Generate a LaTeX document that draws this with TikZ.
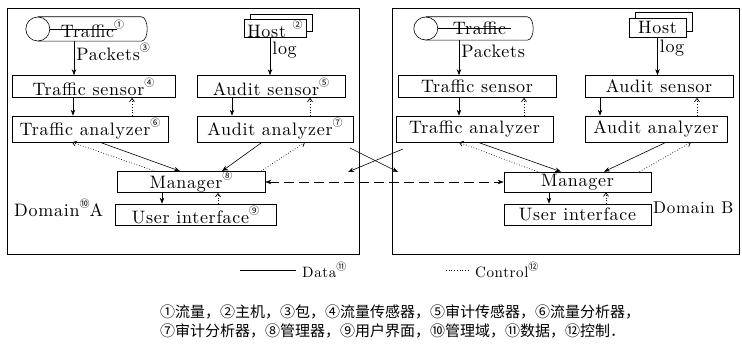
\documentclass[tikz,border=0pt]{standalone}
\usepackage{fontspec}
\newfontfamily\cjk{Noto Sans CJK SC}
\newfontfamily\lmls{lmroman10-regular.otf}[LetterSpace=4]
\usetikzlibrary{arrows.meta}
\newcommand{\cn}[1]{\raisebox{0.5em}{\cjk\fontsize{10}{10}\selectfont #1}}
\tikzset{
  lw/.style={line width=0.6pt},
  box/.style={draw, lw, inner sep=0pt, fill=white, font=\lmls\fontsize{18}{20}\selectfont},
  dom/.style={draw, line width=0.8pt, inner sep=0pt},
  lbl/.style={font=\lmls\fontsize{18}{20}\selectfont, inner sep=2pt},
  data/.style={lw, -{Stealth[length=6pt,width=4.5pt]}},
  ctrl/.style={line width=0.7pt, dotted, -{Straight Barb[length=3.5pt,width=5pt]}},
  link/.style={lw, dash pattern=on 10pt off 5pt, {Stealth[length=6pt,width=4.5pt]}-{Stealth[length=6pt,width=4.5pt]}},
  cyl/.style={inner sep=0pt, font=\lmls\fontsize{18}{20}\selectfont},
}
\begin{document}
\begin{tikzpicture}[x=1pt,y=-1pt]
\fill[white] (0,0) rectangle (742,350);
\useasboundingbox (0,0) rectangle (742,350);

% domains
\node[dom, minimum width=352, minimum height=246] (domA) at (183,131) {};
\node[dom, minimum width=347, minimum height=246] (domB) at (565.5,131) {};

% ---------- Domain A ----------
\node[cyl, minimum width=121, minimum height=24] (tfA) at (86.5,29) {\hspace*{12pt}Traffic\cn{①}};
\draw[lw] ([xshift=12pt]tfA.center -| tfA.west) ellipse [x radius=12, y radius=12];
\draw[lw] ([xshift=12pt]tfA.north west) -- ([xshift=-6pt]tfA.north east)
  .. controls ([xshift=2pt]tfA.north east) and ([xshift=2pt]tfA.south east) .. ([xshift=-6pt]tfA.south east)
  -- ([xshift=12pt]tfA.south west);
\draw[lw] ([xshift=24pt]tfA.west) -- ([xshift=-30pt]tfA.east);

\node[box, minimum width=62, minimum height=17] (hostAb) at (281,22.5) {};
\node[box, minimum width=62, minimum height=17] (hostA) at (275,28.5) {Host \cn{②}};

\node[box, minimum width=163, minimum height=22] (tsA) at (93.5,86.5) {Traffic sensor\cn{④}};
\node[box, minimum width=148, minimum height=22] (asA) at (271,86.5) {Audit sensor\cn{⑤}};
\node[box, minimum width=156, minimum height=26] (taA) at (90,129) {Traffic analyzer\cn{⑥}};
\node[box, minimum width=156, minimum height=26] (aaA) at (275,129) {Audit analyzer\cn{⑦}};
\node[box, minimum width=148, minimum height=20] (mgA) at (191,182) {Manager\cn{⑧}};
\node[box, minimum width=161, minimum height=21] (uiA) at (195.5,214.5) {User interface\cn{⑨}};
\node[lbl, anchor=west] (dnA) at (12,208) {Domain\cn{⑩}A};

\draw[data] ([xshift=-12.5pt]tfA.south) -- ([xshift=-12.5pt]tfA.south |- tsA.north)
  node[lbl, pos=0.32, right] (pkA) {Packets\cn{③}};
\draw[data] ([xshift=-5pt]hostA.south) -- ([xshift=-5pt]hostA.south |- asA.north)
  node[lbl, pos=0.32, right] (logA) {log};

\draw[data] ([xshift=-20.5pt]tsA.south) -- ([xshift=-20.5pt]tsA.south |- taA.north);
\draw[ctrl] ([xshift=38.5pt]tsA.south |- taA.north) -- ([xshift=38.5pt]tsA.south);
\draw[data] ([xshift=-39pt]asA.south) -- ([xshift=-39pt]asA.south |- aaA.north);
\draw[ctrl] ([xshift=39pt]asA.south |- aaA.north) -- ([xshift=39pt]asA.south);

\draw[data] ([xshift=10pt]taA.south) -- ([xshift=-11pt]mgA.north);
\draw[ctrl] ([xshift=-36pt]mgA.north) -- ([xshift=-18pt]taA.south);
\draw[data] ([xshift=-13pt]aaA.south) -- ([xshift=31pt]mgA.north);
\draw[ctrl] ([xshift=70pt]mgA.north) -- ([xshift=30pt]aaA.south);

\draw[data] ([xshift=-29pt]mgA.south) -- ([xshift=-29pt]mgA.south |- uiA.north);
\draw[ctrl] ([xshift=27pt]mgA.south |- uiA.north) -- ([xshift=27pt]mgA.south);

% ---------- Domain B ----------
\node[cyl, minimum width=119, minimum height=23] (tfB) at (473.5,28.5) {\hspace*{12pt}Traffic};
\draw[lw] ([xshift=12pt]tfB.center -| tfB.west) ellipse [x radius=12, y radius=11.5];
\draw[lw] ([xshift=12pt]tfB.north west) -- ([xshift=-6pt]tfB.north east)
  .. controls ([xshift=2pt]tfB.north east) and ([xshift=2pt]tfB.south east) .. ([xshift=-6pt]tfB.south east)
  -- ([xshift=12pt]tfB.south west);
\draw[lw] ([xshift=24pt]tfB.west) -- ([xshift=-22pt]tfB.east);

\node[box, minimum width=57, minimum height=19] (hostBb) at (663.5,22) {};
\node[box, minimum width=57, minimum height=19] (hostB) at (657.5,27.5) {Host};

\node[box, minimum width=158, minimum height=22] (tsB) at (477,86.5) {Traffic sensor};
\node[box, minimum width=148, minimum height=22] (asB) at (659,86.5) {Audit sensor};
\node[box, minimum width=157, minimum height=26] (taB) at (474.5,129) {Traffic analyzer};
\node[box, minimum width=142, minimum height=26] (aaB) at (656,129) {Audit analyzer};
\node[box, minimum width=147, minimum height=20] (mgB) at (577.5,182) {Manager};
\node[box, minimum width=147, minimum height=21] (uiB) at (577.5,214.5) {User interface};
\node[lbl, anchor=west, font=\lmls\fontsize{17}{20}\selectfont] (dnB) at (651,208) {Domain B};

\draw[data] ([xshift=-14.5pt]tfB.south) -- ([xshift=-14.5pt]tfB.south |- tsB.north)
  node[lbl, pos=0.32, right] (pkB) {Packets};
\draw[data] (hostB.south) -- (hostB.south |- asB.north)
  node[lbl, pos=0.28, right] (logB) {log};

\draw[data] ([xshift=-18pt]tsB.south) -- ([xshift=-18pt]tsB.south |- taB.north);
\draw[ctrl] ([xshift=47pt]tsB.south |- taB.north) -- ([xshift=47pt]tsB.south);
\draw[data] ([xshift=-59pt]asB.south) -- ([xshift=-59pt]asB.south |- aaB.north);
\draw[ctrl] ([xshift=38pt]asB.south |- aaB.north) -- ([xshift=38pt]asB.south);

\draw[data] ([xshift=3.5pt]taB.south) -- ([xshift=-16.5pt]mgB.north);
\draw[ctrl] ([xshift=-40pt]mgB.north) -- ([xshift=-15.5pt]taB.south);
\draw[data] ([xshift=10pt]aaB.south) -- ([xshift=26.5pt]mgB.north);
\draw[ctrl] ([xshift=62pt]mgB.north) -- ([xshift=35pt]aaB.south);

\draw[data] ([xshift=-28.5pt]mgB.south) -- ([xshift=-28.5pt]mgB.south |- uiB.north);
\draw[ctrl] ([xshift=28.5pt]mgB.south |- uiB.north) -- ([xshift=28.5pt]mgB.south);

% ---------- between domains ----------
\coordinate (x1s) at (350,148);
\coordinate (x1e) at (398,172);
\coordinate (x2s) at (403,149);
\coordinate (x2e) at (348,172);
\draw[data] (x1s) -- (x1e);
\draw[data] (x2s) -- (x2e);
\draw[link] (mgA.east) -- (mgB.west);

% ---------- legend ----------
\coordinate (ld1) at (240,270);
\coordinate (ld2) at (296,270);
\draw[lw] (ld1) -- (ld2);
\node[anchor=west, inner sep=2pt, font=\lmls\fontsize{15}{17}\selectfont] (ldt) at (300,270) {Data\cn{⑪}};
\coordinate (lc1) at (446,270);
\coordinate (lc2) at (470,270);
\draw[line width=0.7pt, dotted] (lc1) -- (lc2);
\node[anchor=west, inner sep=2pt, font=\lmls\fontsize{15}{17}\selectfont] (lct) at (473,270) {Control\cn{⑫}};

% ---------- footnote ----------
\node[anchor=west, inner sep=0pt, font=\cjk\fontsize{15}{18}\selectfont] (fn1) at (160,312)
  {①流量，②主机，③包，④流量传感器，⑤审计传感器，⑥流量分析器，};
\node[anchor=west, inner sep=0pt, font=\cjk\fontsize{15}{18}\selectfont] (fn2) at (160,331)
  {⑦审计分析器，⑧管理器，⑨用户界面，⑩管理域，⑪数据，⑫控制．};
\end{tikzpicture}
\end{document}
